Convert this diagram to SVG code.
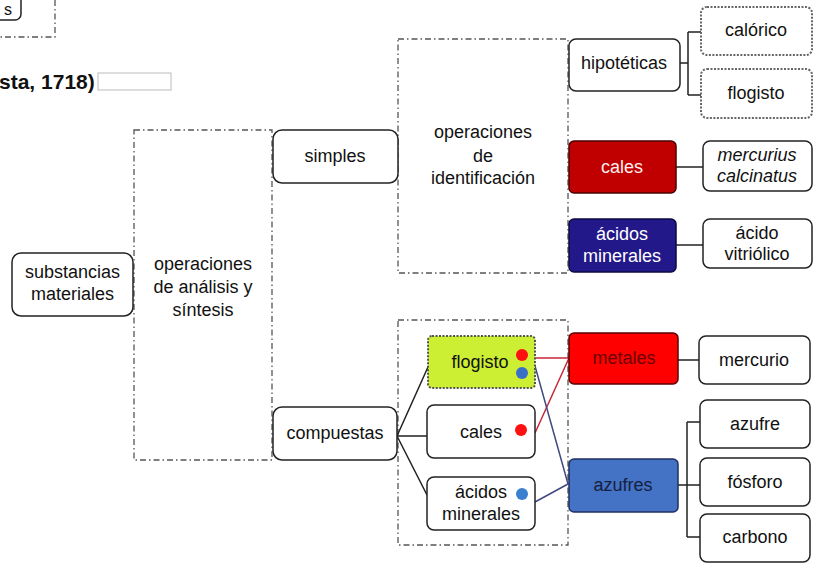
<svg xmlns="http://www.w3.org/2000/svg" width="817" height="563" viewBox="0 0 817 563">
  <style>
    text { font-family: "Liberation Sans", Arial, sans-serif; font-size: 18px; fill: #111; text-anchor: middle; }
    .box { fill: #fff; stroke: #222; stroke-width: 1.5; }
    .dot-box { fill: #fff; stroke: #666; stroke-width: 2; stroke-dasharray: 2 1.5; }
    .frame { fill: none; stroke: #555; stroke-width: 1.3; stroke-dasharray: 6 3 1.5 3; }
    .link { fill: none; stroke: #222; stroke-width: 1.5; }
    .red-link { fill: none; stroke: #c8283a; stroke-width: 1.5; }
    .blue-link { fill: none; stroke: #404a80; stroke-width: 1.5; }
    .white { fill: #fff; }
    .title { font-weight: bold; font-size: 21px; text-anchor: start; }
  </style>
  <rect width="817" height="563" fill="#fff"/>

  <!-- clipped pieces at the top left -->
  <g id="clipped-top">
    <rect class="box" x="-20" y="-10" width="41" height="30" rx="6"/>
    <text x="8" y="15" style="font-size:16px">s</text>
    <path class="frame" d="M55 0 V37 H0"/>
    <text class="title" x="-1" y="89">sta, 1718)</text>
    <rect x="98" y="73" width="73" height="17" fill="#fff" stroke="#bbb" stroke-width="1"/>
  </g>

  <!-- grouping frames -->
  <g id="frame-analisis">
    <rect class="frame" x="134" y="130" width="138" height="330"/>
    <text x="203" y="270">operaciones</text>
    <text x="203" y="293">de análisis y</text>
    <text x="203" y="316">síntesis</text>
  </g>
  <g id="frame-identificacion">
    <rect class="frame" x="398" y="39" width="170" height="234"/>
    <text x="483" y="138">operaciones</text>
    <text x="483" y="162">de</text>
    <text x="483" y="184">identificación</text>
  </g>
  <g id="frame-compuestas">
    <rect class="frame" x="398" y="320" width="170" height="225"/>
  </g>

  <!-- connectors -->
  <g id="connectors">
    <path class="link" d="M680 63 H688 M688 32 V95 M688 32 H701 M688 95 H701"/>
    <path class="link" d="M676 167 H703"/>
    <path class="link" d="M676 245 H703"/>
    <path class="link" d="M397 436 L428 367 M397 436 H427 M397 436 L427 495"/>
    <path class="link" d="M678 360 H699"/>
    <path class="link" d="M678 485 H687 M687 422 V537 M687 422 H700 M687 485 H700 M687 537 H700"/>
    <path class="red-link" d="M535 358 L569 358 M535 433 L569 358"/>
    <path class="blue-link" d="M535 366 L568 484 M535 502 L568 484"/>
  </g>

  <!-- nodes -->
  <g id="substancias-materiales">
    <rect class="box" x="12" y="253" width="121" height="63" rx="9"/>
    <text x="72.5" y="278">substancias</text>
    <text x="72.5" y="300">materiales</text>
  </g>
  <g id="simples">
    <rect class="box" x="273" y="130" width="125" height="53" rx="9"/>
    <text x="335" y="162">simples</text>
  </g>
  <g id="compuestas">
    <rect class="box" x="273" y="407" width="124" height="53" rx="9"/>
    <text x="335" y="439">compuestas</text>
  </g>
  <g id="hipoteticas">
    <rect class="box" x="569" y="39" width="111" height="52" rx="7"/>
    <text x="624" y="69">hipotéticas</text>
  </g>
  <g id="calorico">
    <rect class="dot-box" x="701" y="7" width="111" height="48" rx="6"/>
    <text x="756" y="36">calórico</text>
  </g>
  <g id="flogisto-hipotetico">
    <rect class="dot-box" x="701" y="69" width="111" height="49" rx="6"/>
    <text x="756" y="99">flogisto</text>
  </g>
  <g id="cales-simples">
    <rect x="569" y="141" width="107" height="52" rx="5" fill="#c00000" stroke="#4a0000" stroke-width="1.5"/>
    <text x="622" y="173" style="fill:#ffeef0">cales</text>
  </g>
  <g id="mercurius-calcinatus">
    <rect class="box" x="703" y="141" width="109" height="50" rx="7"/>
    <text x="757" y="161" font-style="italic">mercurius</text>
    <text x="757" y="182" font-style="italic">calcinatus</text>
  </g>
  <g id="acidos-minerales-simples">
    <rect x="569" y="219" width="107" height="53" rx="5" fill="#22188a" stroke="#0d0a40" stroke-width="1.5"/>
    <text class="white" x="622" y="240">ácidos</text>
    <text class="white" x="622" y="262">minerales</text>
  </g>
  <g id="acido-vitriolico">
    <rect class="box" x="703" y="219" width="109" height="49" rx="7"/>
    <text x="757" y="239">ácido</text>
    <text x="757" y="260">vitriólico</text>
  </g>
  <g id="flogisto-compuesto">
    <rect x="428" y="336" width="107" height="52" rx="4" fill="#ccee33" stroke="#555" stroke-width="2" stroke-dasharray="2 1.5"/>
    <text x="480" y="368">flogisto</text>
    <circle cx="522" cy="355" r="6" fill="#ff1010"/>
    <circle cx="522" cy="373" r="6" fill="#3a6fc8"/>
  </g>
  <g id="cales-compuesto">
    <rect class="box" x="427" y="405" width="108" height="53" rx="7"/>
    <text x="481" y="438">cales</text>
    <circle cx="521" cy="430" r="6" fill="#ff1010"/>
  </g>
  <g id="acidos-minerales-compuesto">
    <rect class="box" x="427" y="477" width="108" height="53" rx="7"/>
    <text x="481" y="498">ácidos</text>
    <text x="481" y="520">minerales</text>
    <circle cx="522" cy="494" r="6" fill="#3a7fd0"/>
  </g>
  <g id="metales">
    <rect x="569" y="333" width="109" height="51" rx="5" fill="#ff0000" stroke="#5a0000" stroke-width="1.5"/>
    <text x="624" y="364" style="fill:#6a0000">metales</text>
  </g>
  <g id="mercurio">
    <rect class="box" x="699" y="336" width="111" height="48" rx="7"/>
    <text x="754" y="366">mercurio</text>
  </g>
  <g id="azufres">
    <rect x="569" y="459" width="109" height="53" rx="5" fill="#4472c4" stroke="#1f3160" stroke-width="1.5"/>
    <text x="623" y="491" style="fill:#14213f">azufres</text>
  </g>
  <g id="azufre">
    <rect class="box" x="700" y="400" width="110" height="48" rx="7"/>
    <text x="755" y="430">azufre</text>
  </g>
  <g id="fosforo">
    <rect class="box" x="700" y="458" width="110" height="48" rx="7"/>
    <text x="755" y="488">fósforo</text>
  </g>
  <g id="carbono">
    <rect class="box" x="700" y="514" width="110" height="48" rx="7"/>
    <text x="755" y="543">carbono</text>
  </g>
</svg>
